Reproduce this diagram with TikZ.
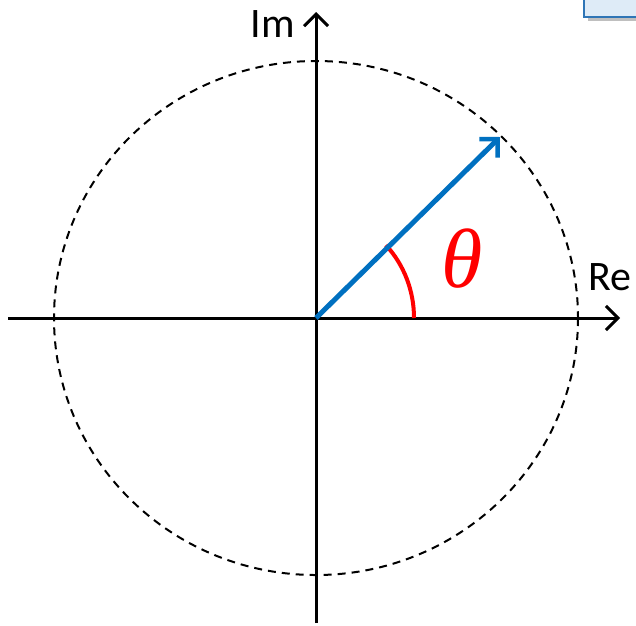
\documentclass[tikz,border=0pt]{standalone}
\usepackage{fontspec}
\setmainfont{Carlito}
\newfontfamily\thetafont{Liberation Serif}
\usetikzlibrary{arrows.meta}
\definecolor{vecblue}{HTML}{0070C0}
\definecolor{boxblue}{HTML}{2E75B6}
\definecolor{boxfill}{HTML}{DEEBF7}
\definecolor{thetared}{HTML}{FF0000}
\begin{document}
\begin{tikzpicture}[x=1pt,y=-1pt,
  axisline/.style={line width=3pt, -{Straight Barb[length=12pt,width=24pt,line width=3pt]}},
  vecline/.style={vecblue, line width=5pt, -{Straight Barb[length=13pt,width=26pt,line width=4.5pt]}},
  unitcircle/.style={line width=2pt, dash pattern=on 8pt off 6pt},
  anglearc/.style={thetared, line width=4pt},
  axislabel/.style={font=\fontsize{42}{42}\selectfont, inner sep=0pt},
  thetalabel/.style={font=\thetafont\itshape\fontsize{84}{84}\selectfont, text=thetared, inner sep=0pt}]
\useasboundingbox (0,0) rectangle (636,625);
\begin{scope}
  \clip (0,0) rectangle (636,625);
  \fill[black!25] (588,4) rectangle (645,21);
  \draw[line width=2pt, draw=boxblue, fill=boxfill] (584,-5) rectangle (645,17);
\end{scope}
\coordinate (O) at (316,318);
\coordinate (xs) at (8,318);
\coordinate (xe) at (620,318);
\coordinate (ys) at (316,623);
\coordinate (ye) at (316,12);
\coordinate (v) at (500,137);
\coordinate (a0) at (414,318);
\draw[unitcircle] (O) ellipse [x radius=262, y radius=257];
\draw[axisline] (xs) -- (xe);
\draw[axisline] (ys) -- (ye);
\draw[anglearc] (a0) arc[start angle=0, end angle=-44.5, x radius=98, y radius=104];
\draw[vecline] (O) -- (v);
\node[axislabel] (im) at (273,24) {Im};
\node[axislabel] (re) at (610,277) {Re};
\node[thetalabel] (theta) at (462,259) {θ};
\end{tikzpicture}
\end{document}
